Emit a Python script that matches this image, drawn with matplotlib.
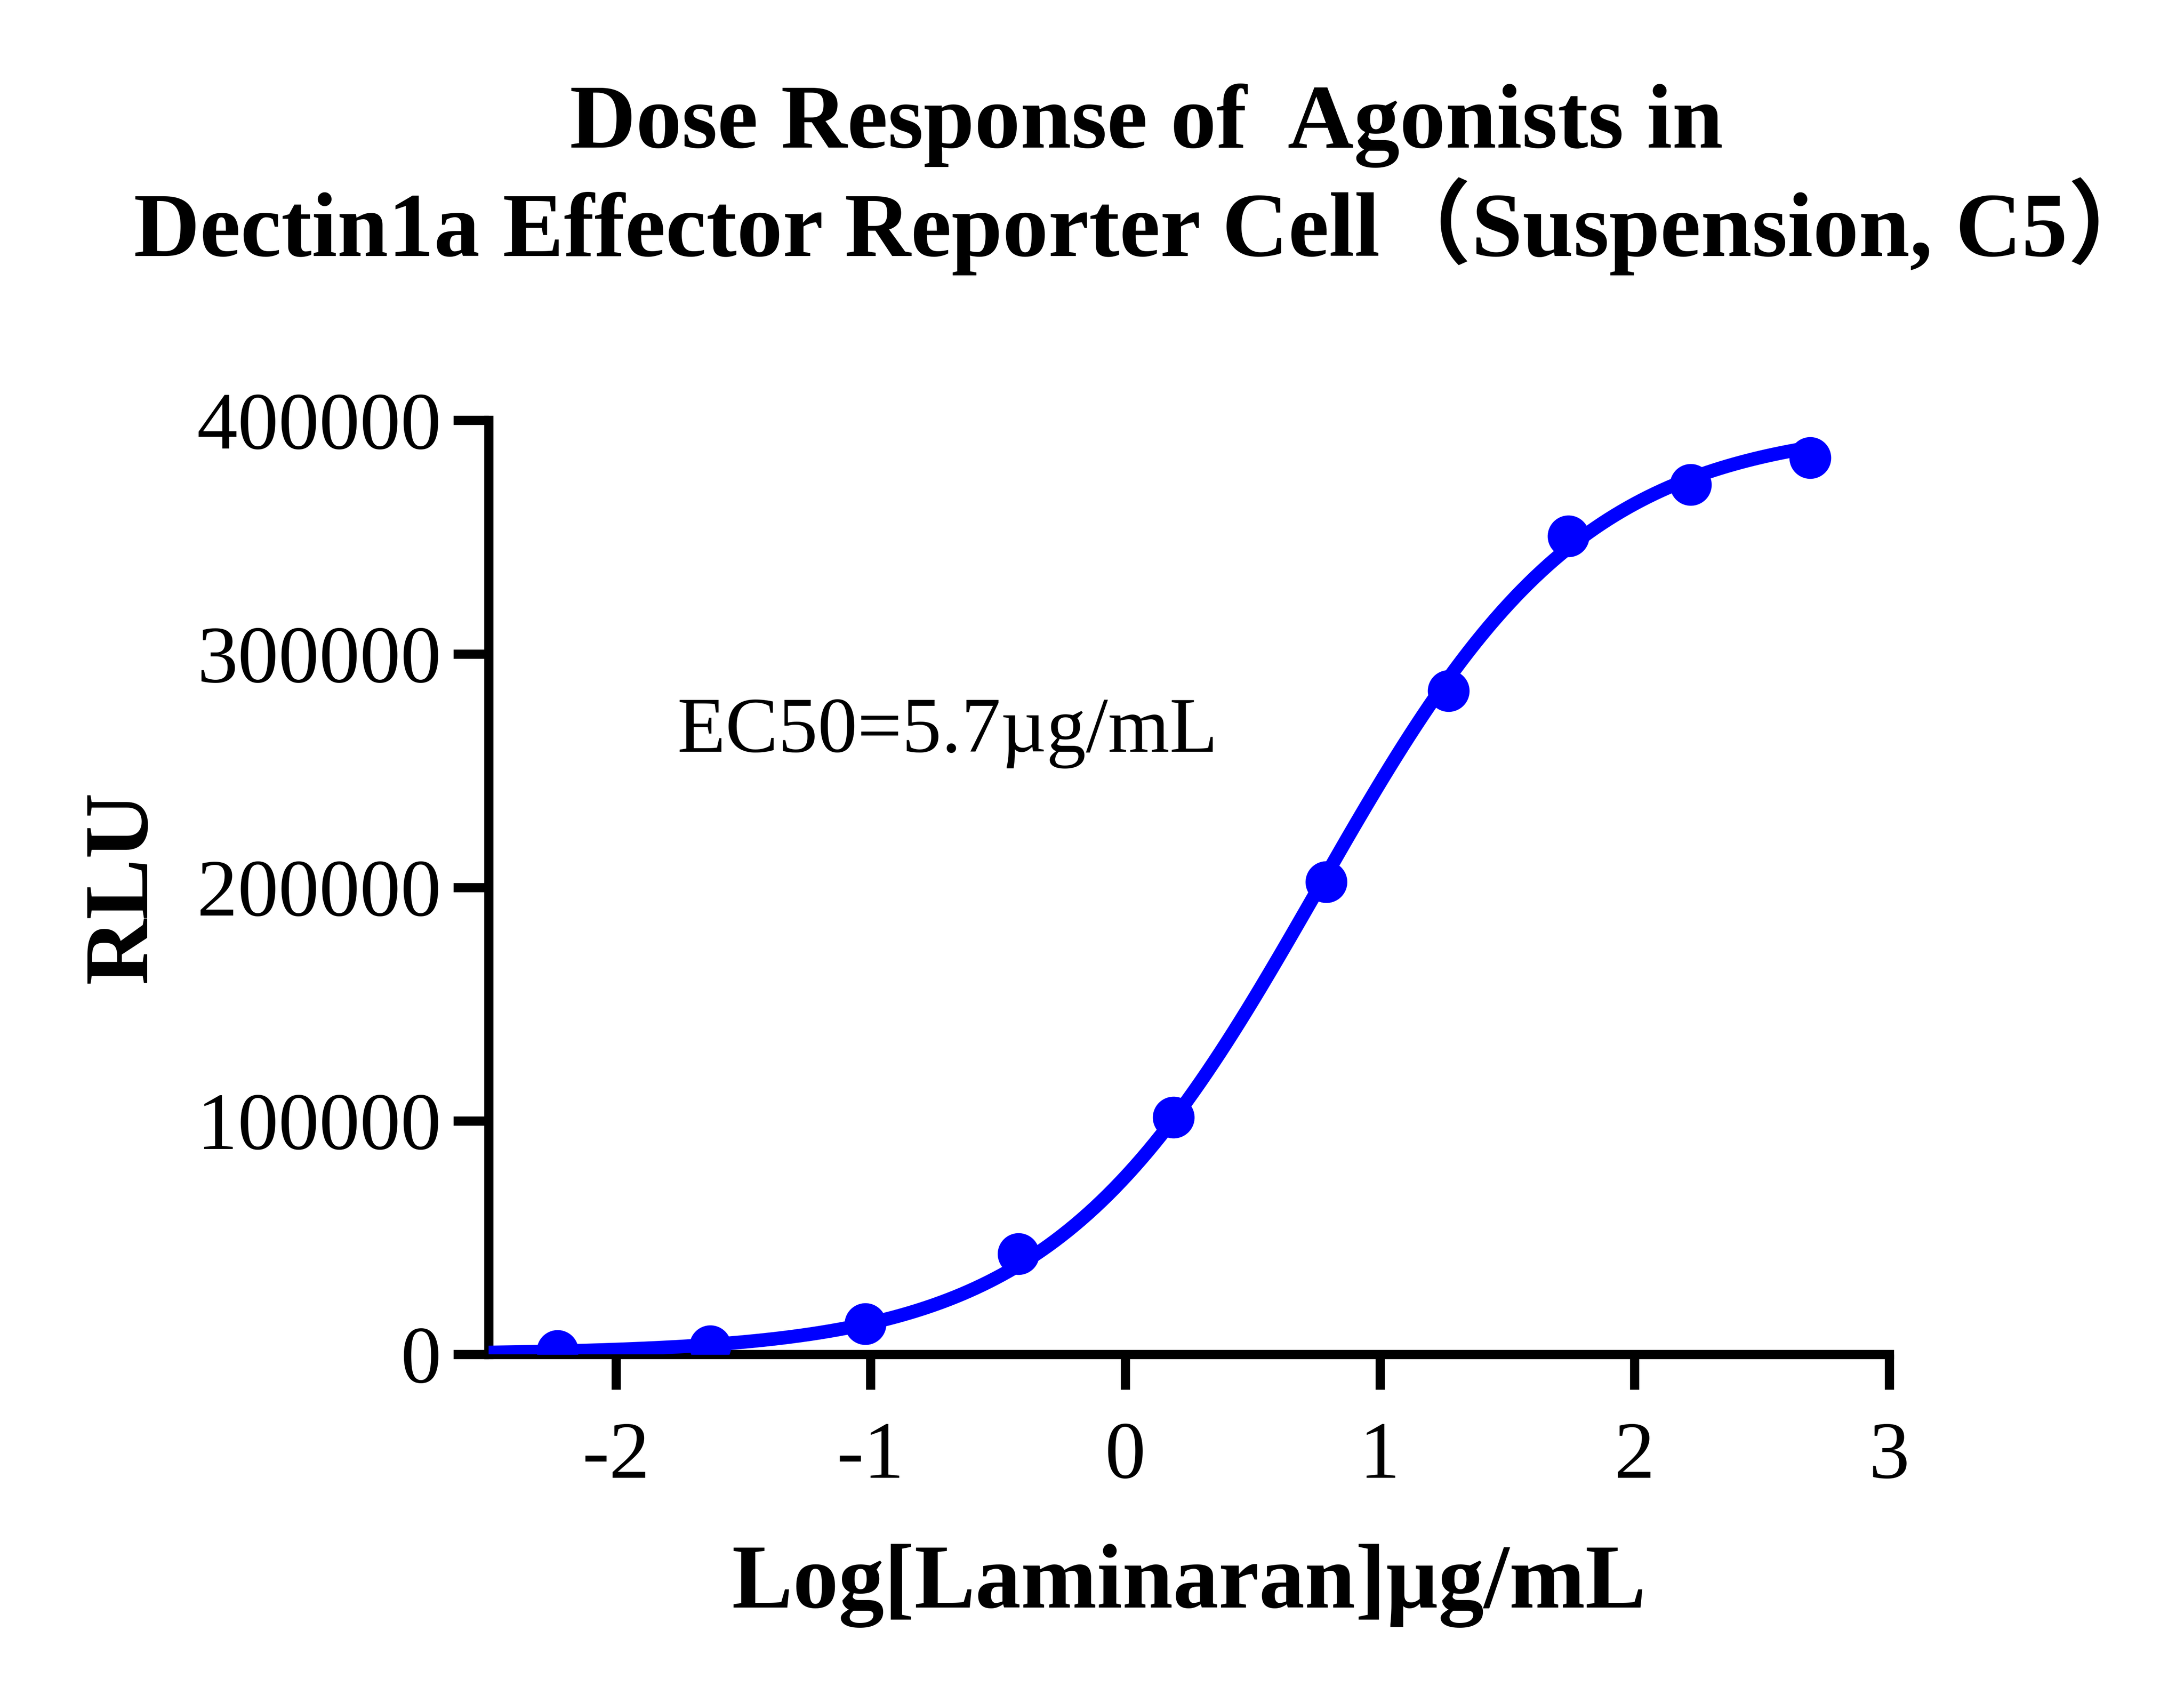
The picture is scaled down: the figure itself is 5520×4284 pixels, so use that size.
import numpy as np
import matplotlib
matplotlib.use("Agg")
import matplotlib.pyplot as plt

plt.rcParams['font.family'] = ['Liberation Serif', 'Noto Sans CJK SC', 'DejaVu Sans']

# measured points: log10 concentration (ug/mL) and RLU
log_conc = [-2.23, -1.63, -1.02, -0.42, 0.19, 0.79, 1.27, 1.74, 2.22, 2.69]
rlu = [1500, 3600, 13100, 43000, 101500, 202400, 284200, 350400, 372500, 384000]

# 4PL fit parameters (EC50 = 5.7 ug/mL)
bottom = 0
top = 398000
log_ec50 = np.log10(5.7)
hill = 0.83

title = "Dose Response of  Agonists in\nDectin1a Effector Reporter Cell（Suspension, C5）"
xlabel = "Log[Laminaran]µg/mL"
ylabel = "RLU"
ec50_text = "EC50=5.7µg/mL"

fig = plt.figure(figsize=(13.8, 10.71), dpi=400)
ax = fig.add_axes([0.2237, 0.201, 0.6413, 0.551])

xfit = np.linspace(-2.5, max(log_conc), 400)
yfit = bottom + (top - bottom) / (1 + 10 ** ((log_ec50 - xfit) * hill))
ax.plot(xfit, yfit, '-', color='#0000ff', lw=6.2, solid_capstyle='round', zorder=3)
ax.plot(log_conc, rlu, linestyle='none', marker='o', ms=18, color='#0000ff', zorder=4)

ax.set_xlim(-2.5, 3)
ax.set_ylim(0, 400000)
ax.set_xticks([-2, -1, 0, 1, 2, 3])
ax.set_xticklabels(['-2', '-1', '0', '1', '2', '3'])
ax.set_yticks([0, 100000, 200000, 300000, 400000])
ax.set_yticklabels(['0', '100000', '200000', '300000', '400000'])

for s in ['top', 'right']:
    ax.spines[s].set_visible(False)
for s in ['bottom', 'left']:
    ax.spines[s].set_linewidth(4.2)
    ax.spines[s].set_capstyle('projecting')
ax.tick_params(axis='both', width=4.2, length=16, labelsize=37, direction='out')
ax.tick_params(axis='x', pad=14.5)
ax.tick_params(axis='y', pad=5.5)

ax.set_xlabel(xlabel, fontsize=41.5, fontweight='bold', labelpad=22)
ax.set_ylabel(ylabel, fontsize=41.5, fontweight='bold', labelpad=14.5)
ax.text(-1.76, 258000, ec50_text, fontsize=36)

fig.text(0.525, 0.849, title, ha='center', va='baseline', fontsize=41.7,
         fontweight='bold', linespacing=1.12)

fig.savefig("out.png", dpi=400)
